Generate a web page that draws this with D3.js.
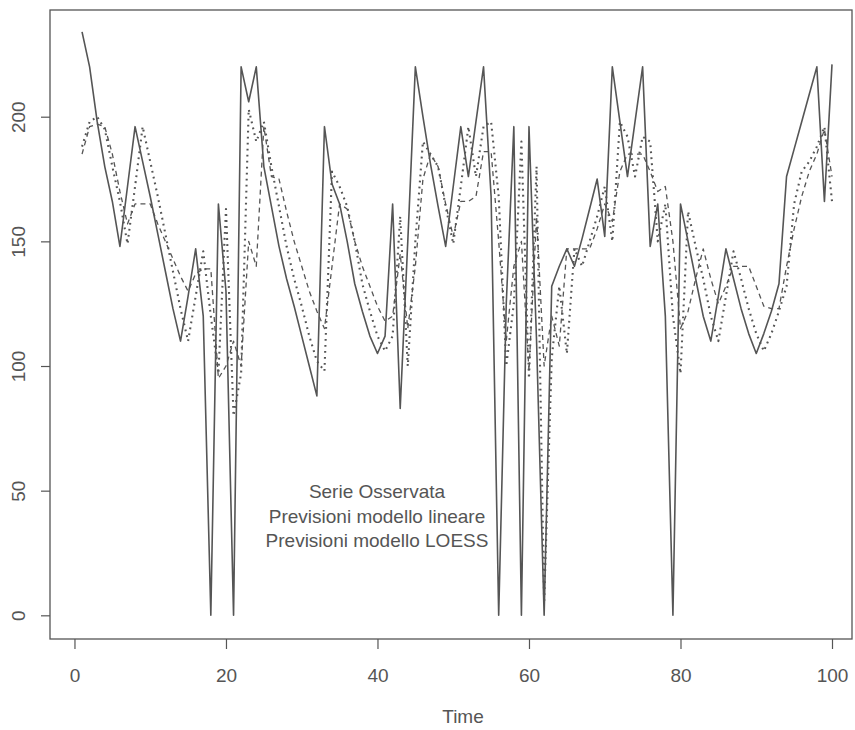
<!DOCTYPE html>
<html>
<head>
<meta charset="utf-8">
<script src="https://cdn.jsdelivr.net/npm/d3@7"></script>
<style>
  body { margin: 0; background: #ffffff; }
  svg { display: block; }
  text { font-family: "Liberation Sans", Arial, Helvetica, sans-serif; }
</style>
</head>
<body>
<svg id="chart" width="855" height="730"></svg>
<script>
// Observed series (solid line), one value per time step 1..100
const observed = [
  234, 220, 198, 180, 166, 148, 172, 196, 182, 168,
  153, 138, 123, 110, 128, 147, 120,   0, 165, 130,
    0, 220, 206, 220, 180, 164, 148, 135, 124, 112,
  100,  88, 196, 173, 165, 150, 133, 122, 112, 105,
  112, 165,  83, 150, 220, 200, 181, 164, 148, 172,
  196, 176, 198, 220, 168,   0, 125, 196,   0, 196,
  110,   0, 132, 140, 147, 140, 151, 163, 175, 152,
  220, 198, 176, 198, 220, 148, 165, 120,   0, 165,
  150, 135, 120, 110, 128, 147, 135, 123, 113, 105,
  113, 122, 133, 176, 187, 198, 209, 220, 166, 221
];

// Linear model forecasts (dashed line)
const linearFit = [
  185, 196, 197, 196, 185, 170, 157, 165, 165, 165,
  157, 150, 143, 136, 130, 137, 139, 139,  95, 100,
  110, 100, 150, 140, 196, 176, 175, 162, 150, 140,
  130, 122, 115, 140, 165, 163, 150, 140, 132, 124,
  118, 120, 145, 115, 140, 175, 185, 180, 165, 152,
  166, 166, 168, 186, 186, 150, 110, 140, 150,  98,
  160, 100, 120, 108, 147, 147, 147, 147, 155, 165,
  158, 178, 185, 185, 185, 178, 170, 172, 150, 115,
  122, 135, 147, 135, 125, 132, 140, 140, 140, 132,
  124, 123, 123, 140, 155, 168, 178, 185, 195, 176
];

// LOESS model forecasts (dotted line)
const loessFit = [
  188, 198, 200, 195, 180, 166, 149, 172, 196, 182,
  168, 153, 138, 123, 110, 128, 146, 120,  97, 163,
   80,  97, 203, 190, 198, 180, 164, 148, 135, 124,
  112, 102,  98, 178, 172, 164, 150, 133, 122, 112,
  106, 112, 160, 100, 150, 190, 185, 180, 164, 149,
  172, 196, 176, 196, 198, 168, 100, 125, 190,  95,
  180,   5, 103, 132, 105, 147, 140, 150, 160, 172,
  150, 198, 192, 176, 192, 190, 150, 165, 120,  97,
  162, 148, 135, 120, 110, 128, 146, 135, 123, 113,
  106, 113, 122, 132, 165, 178, 182, 188, 196, 166
];

const timeIndex = d3.range(1, observed.length + 1);

const xTicks = [0, 20, 40, 60, 80, 100];
const yTicks = [0, 50, 100, 150, 200];
const legendLabels = ["Serie Osservata", "Previsioni modello lineare", "Previsioni modello LOESS"];
const xTitle = "Time";

const ink = "#555555";
const box = { left: 50, right: 852, top: 10, bottom: 639 };

const svg = d3.select("#chart");

const x = d3.scaleLinear().domain([-3.23, 102.64]).range([box.left, box.right]);
const y = d3.scaleLinear().domain([-9.5, 242.8]).range([box.bottom, box.top]);

// Series lines
const line = d3.line()
  .x((d, i) => x(timeIndex[i]))
  .y(d => y(d));

const series = [
  { values: observed,  dash: null,      width: 1.6 },
  { values: linearFit, dash: "5,4",     width: 1.3 },
  { values: loessFit,  dash: "1.8,4.2", width: 2.1 }
];

svg.append("g")
  .selectAll("path")
  .data(series)
  .join("path")
  .attr("d", s => line(s.values))
  .attr("fill", "none")
  .attr("stroke", ink)
  .attr("stroke-width", s => s.width)
  .attr("stroke-linejoin", "round")
  .attr("stroke-dasharray", s => s.dash);

// Plot frame
svg.append("rect")
  .attr("x", box.left).attr("y", box.top)
  .attr("width", box.right - box.left).attr("height", box.bottom - box.top)
  .attr("fill", "none").attr("stroke", ink).attr("stroke-width", 1.3);

// Axes
const xAxis = svg.append("g")
  .attr("transform", `translate(0,${box.bottom})`)
  .call(d3.axisBottom(x).tickValues(xTicks).tickSize(10).tickPadding(20).tickFormat(d3.format("d")));
xAxis.select(".domain").remove();
xAxis.selectAll("line").attr("stroke", ink).attr("stroke-width", 1.2);
xAxis.selectAll("text").attr("fill", ink).style("font-size", "19px");

const yAxis = svg.append("g")
  .attr("transform", `translate(${box.left},0)`)
  .call(d3.axisLeft(y).tickValues(yTicks).tickSize(9).tickFormat(d3.format("d")));
yAxis.select(".domain").remove();
yAxis.selectAll("line").attr("stroke", ink).attr("stroke-width", 1.2);
yAxis.selectAll("text")
  .attr("fill", ink)
  .style("font-size", "19px")
  .attr("x", null).attr("dy", null)
  .attr("text-anchor", "middle")
  .attr("transform", "translate(-25,0) rotate(-90)");

// Axis title
svg.append("text")
  .attr("x", 463).attr("y", 723)
  .attr("text-anchor", "middle")
  .attr("fill", ink)
  .style("font-size", "19px")
  .text(xTitle);

// Legend text block
svg.append("g")
  .selectAll("text")
  .data(legendLabels)
  .join("text")
  .attr("x", 377)
  .attr("y", (d, i) => 498 + i * 24.5)
  .attr("text-anchor", "middle")
  .attr("fill", ink)
  .style("font-size", "19px")
  .text(d => d);
</script>
</body>
</html>
